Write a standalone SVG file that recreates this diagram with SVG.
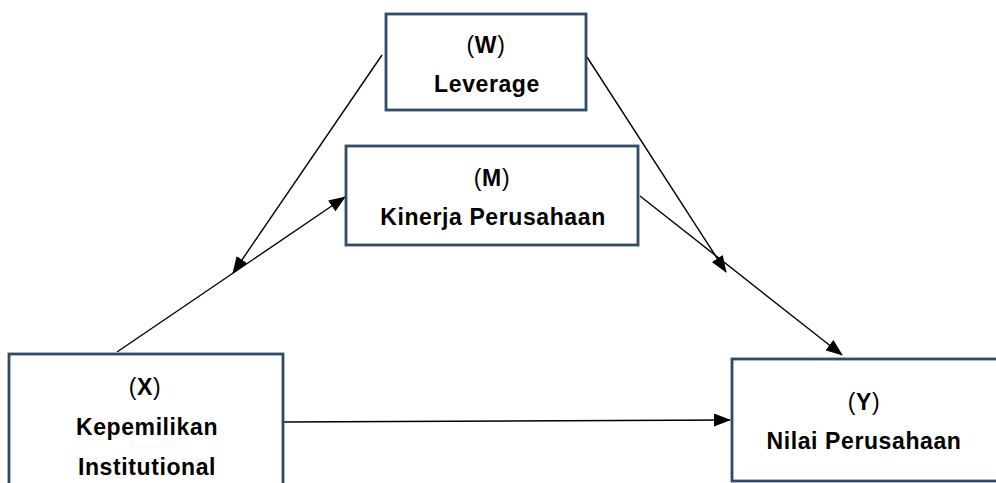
<svg xmlns="http://www.w3.org/2000/svg" width="996" height="483" viewBox="0 0 996 483">
<defs>
<marker id="ah" markerWidth="17" markerHeight="13" refX="16" refY="6.5" orient="auto" markerUnits="userSpaceOnUse">
<path d="M0,0 L17,6.5 L0,13 Z" fill="#000"/>
</marker>
<style>
.box{fill:#fff;stroke:#2f4a6b;stroke-width:2.8}
.lbl{font-family:"Liberation Sans",Arial,sans-serif;font-weight:bold;font-size:23px;letter-spacing:0.6px;fill:#000;text-anchor:middle;dominant-baseline:central}
.p{font-weight:normal}
.c{fill:none;stroke:#000;stroke-width:1.4;marker-end:url(#ah)}
</style>
</defs>
<rect width="996" height="483" fill="#fff"/>
<g id="connectors">
<path class="c" d="M382,55 L233,273"/>
<path class="c" d="M117,352 L345,197"/>
<path class="c" d="M587,57 L726,272"/>
<path class="c" d="M640,196 L842,355"/>
<path class="c" d="M283,422 L730,420"/>
</g>
<g id="nodeW">
<rect class="box" x="386" y="14" width="200" height="96"/>
<text class="lbl" x="486" y="45"><tspan class="p">(</tspan>W<tspan class="p">)</tspan></text>
<text class="lbl" x="487" y="84">Leverage</text>
</g>
<g id="nodeM">
<rect class="box" x="346" y="146" width="292" height="99"/>
<text class="lbl" x="492" y="178"><tspan class="p">(</tspan>M<tspan class="p">)</tspan></text>
<text class="lbl" x="493" y="217">Kinerja Perusahaan</text>
</g>
<g id="nodeX">
<rect class="box" x="9" y="354" width="274" height="140"/>
<text class="lbl" x="145" y="387"><tspan class="p">(</tspan>X<tspan class="p">)</tspan></text>
<text class="lbl" x="147" y="427">Kepemilikan</text>
<text class="lbl" x="147" y="467">Institutional</text>
</g>
<g id="nodeY">
<rect class="box" x="732" y="359" width="270" height="122"/>
<text class="lbl" x="864" y="402"><tspan class="p">(</tspan>Y<tspan class="p">)</tspan></text>
<text class="lbl" x="864" y="441">Nilai Perusahaan</text>
</g>
</svg>
